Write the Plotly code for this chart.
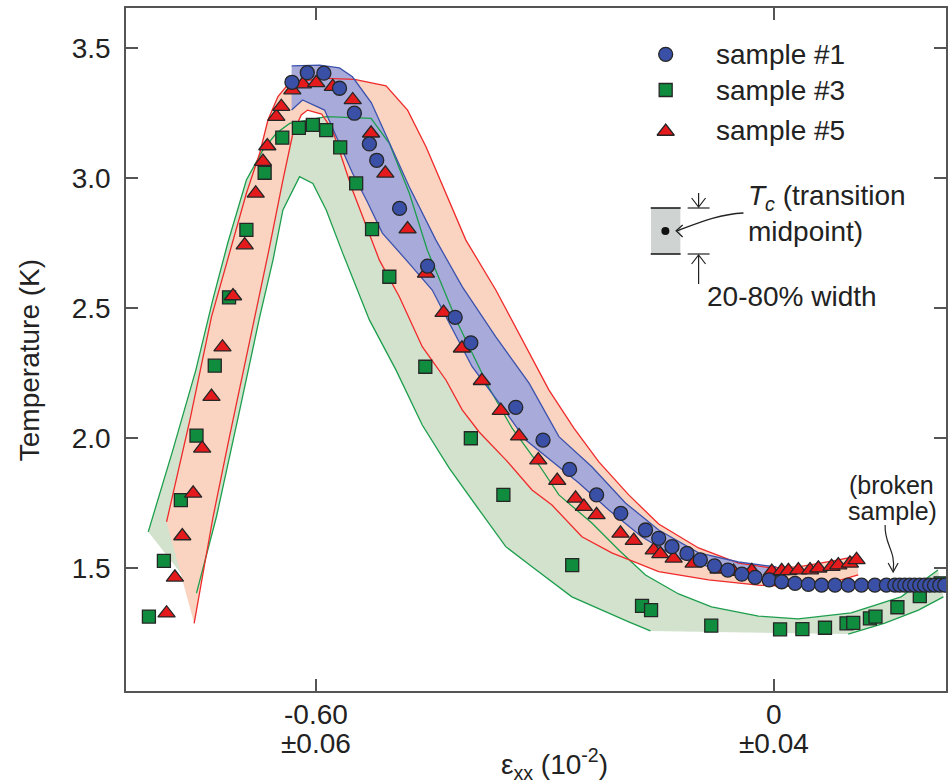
import plotly.graph_objects as go

# ---------------- data (strain in 1e-2, temperature in K) ----------------
s1_x = [-0.6312, -0.6111, -0.5894, -0.5689, -0.5494, -0.5298, -0.5202, -0.4903, -0.4536, -0.4175,
        -0.3970, -0.3382, -0.3025, -0.2677, -0.2324, -0.2007, -0.1684, -0.1511, -0.1337, -0.1141,
        -0.0966, -0.0780, -0.0606, -0.0423, -0.0248, -0.0065, 0.0099, 0.0274, 0.0448, 0.0622,
        0.0797, 0.0970, 0.1144, 0.1319, 0.1470, 0.1580, 0.1645, 0.1710, 0.1776, 0.1840,
        0.1906, 0.1970, 0.2037, 0.2100, 0.2168, 0.2233]
s1_t = [3.367, 3.404, 3.402, 3.344, 3.248, 3.130, 3.067, 2.882, 2.660, 2.463,
        2.365, 2.117, 1.991, 1.878, 1.780, 1.709, 1.645, 1.613, 1.581, 1.555,
        1.530, 1.507, 1.491, 1.475, 1.463, 1.453, 1.446, 1.440, 1.436, 1.433,
        1.433, 1.433, 1.433, 1.433, 1.433, 1.433, 1.433, 1.433, 1.433, 1.433,
        1.433, 1.433, 1.433, 1.433, 1.433, 1.433]

s3_x = [-0.8184, -0.7988, -0.7766, -0.7561, -0.7322, -0.7135, -0.6908, -0.6669, -0.6438, -0.6221,
        -0.6038, -0.5863, -0.5680, -0.5471, -0.5263, -0.5037, -0.4566, -0.3970, -0.3544, -0.2643,
        -0.1729, -0.1611, -0.0823, 0.0078, 0.0370, 0.0666, 0.0948, 0.1036, 0.1254, 0.1327,
        0.1614, 0.1907, 0.2180]
s3_t = [1.312, 1.526, 1.760, 2.008, 2.277, 2.540, 2.799, 3.019, 3.154, 3.192,
        3.203, 3.183, 3.117, 2.978, 2.802, 2.619, 2.273, 1.998, 1.780, 1.510,
        1.353, 1.337, 1.277, 1.263, 1.264, 1.269, 1.286, 1.288, 1.305, 1.312,
        1.348, 1.391, 1.440]

s5_x = [-0.7953, -0.7844, -0.7747, -0.7605, -0.7487, -0.7365, -0.7221, -0.7083, -0.6930, -0.6786,
        -0.6691, -0.6634, -0.6516, -0.6451, -0.6307, -0.6169, -0.5994, -0.5777, -0.5516, -0.5276,
        -0.5089, -0.4798, -0.4557, -0.4327, -0.4087, -0.3826, -0.3578, -0.3339, -0.3087, -0.2839,
        -0.2599, -0.2490, -0.2324, -0.2011, -0.1837, -0.1576, -0.1489, -0.1315, -0.1054, -0.0727,
        -0.0531, -0.0292, -0.0031, 0.0099, 0.0187, 0.0317, 0.0470, 0.0579, 0.0752, 0.0840,
        0.0992, 0.1079]
s5_t = [1.325, 1.463, 1.622, 1.786, 1.959, 2.158, 2.348, 2.545, 2.741, 2.940,
        3.062, 3.122, 3.235, 3.273, 3.337, 3.360, 3.365, 3.350, 3.299, 3.171,
        3.017, 2.802, 2.632, 2.481, 2.344, 2.219, 2.104, 2.006, 1.914, 1.835,
        1.767, 1.735, 1.703, 1.632, 1.604, 1.568, 1.553, 1.536, 1.517, 1.494,
        1.485, 1.488, 1.485, 1.488, 1.488, 1.491, 1.491, 1.498, 1.504, 1.510,
        1.517, 1.530]

# 20-80% transition-width bands
b1_outer_x = [-0.6316, -0.5951, -0.5690, -0.5520, -0.5272, -0.5037, -0.4775, -0.4427, -0.4083, -0.3643,
              -0.3208, -0.2817, -0.2386, -0.1946, -0.1511, -0.0989, -0.0466, 0.0030]
b1_outer_t = [3.430, 3.433, 3.422, 3.388, 3.288, 3.134, 2.964, 2.760, 2.581, 2.388,
              2.210, 2.004, 1.888, 1.749, 1.645, 1.557, 1.522, 1.503]
b1_inner_x = [-0.6316, -0.6173, -0.5885, -0.5690, -0.5520, -0.5337, -0.5128, -0.4815, -0.4475, -0.4253,
              -0.3953, -0.3561, -0.3252, -0.2556, -0.2164, -0.1733, -0.1293, -0.0858, -0.0379, 0.0030]
b1_inner_t = [3.260, 3.299, 3.260, 3.134, 3.018, 2.914, 2.787, 2.683, 2.568, 2.441,
              2.273, 2.119, 1.991, 1.826, 1.722, 1.619, 1.542, 1.504, 1.465, 1.460]

b5_outer_x = [-0.7953, -0.7648, -0.7365, -0.7126, -0.6908, -0.6734, -0.6626, -0.6495, -0.6368, -0.5951,
              -0.5494, -0.5080, -0.4798, -0.4557, -0.4253, -0.4035, -0.3643, -0.3296, -0.2947, -0.2621,
              -0.2294, -0.1903, -0.1511, -0.0989, -0.0466, -0.0035, 0.0317, 0.0774, 0.1101]
b5_outer_t = [1.676, 2.068, 2.465, 2.709, 2.940, 3.094, 3.222, 3.312, 3.357, 3.383,
              3.378, 3.353, 3.260, 3.119, 2.914, 2.760, 2.568, 2.376, 2.183, 2.037,
              1.907, 1.780, 1.668, 1.576, 1.518, 1.499, 1.503, 1.526, 1.545]
b5_inner_x = [-0.7592, -0.7344, -0.7139, -0.6917, -0.6760, -0.6604, -0.6430, -0.6299, -0.6190, -0.6107,
              -0.5924, -0.5781, -0.5520, -0.5167, -0.4906, -0.4606, -0.4296, -0.4083, -0.3861, -0.3509,
              -0.3169, -0.2908, -0.2516, -0.2125, -0.1511, -0.0858, -0.0205, 0.0317, 0.0774, 0.1101]
b5_inner_t = [1.286, 1.696, 1.991, 2.299, 2.530, 2.735, 2.991, 3.171, 3.241, 3.260,
              3.245, 3.183, 2.953, 2.683, 2.542, 2.350, 2.222, 2.107, 2.022, 1.914,
              1.799, 1.741, 1.619, 1.557, 1.485, 1.453, 1.433, 1.427, 1.445, 1.472]

b3_outer_x = [-0.8193, -0.7870, -0.7570, -0.7348, -0.7152, -0.6908, -0.6691, -0.6516, -0.6342, -0.5863,
              -0.5276, -0.5037, -0.4775, -0.4540, -0.4149, -0.3731, -0.3430, -0.3078, -0.2817, -0.2386,
              -0.2033, -0.1684, -0.1250, -0.0819, -0.0205, 0.0317, 0.1009, 0.1662, 0.2145]
b3_outer_t = [1.638, 1.953, 2.260, 2.530, 2.749, 2.991, 3.107, 3.171, 3.209, 3.235,
              3.228, 3.132, 2.940, 2.722, 2.445, 2.191, 2.037, 1.895, 1.780, 1.672,
              1.568, 1.472, 1.399, 1.349, 1.314, 1.303, 1.326, 1.388, 1.491]
b3_inner_x = [-0.7561, -0.7300, -0.6995, -0.6734, -0.6560, -0.6430, -0.6212, -0.6038, -0.5863, -0.5646,
              -0.5298, -0.4949, -0.4606, -0.4253, -0.3861, -0.3513, -0.3169, -0.2647, -0.1903, -0.1619]
b3_inner_t = [1.402, 1.696, 2.107, 2.465, 2.683, 2.876, 3.004, 2.978, 2.876, 2.709,
              2.453, 2.260, 2.049, 1.883, 1.722, 1.581, 1.504, 1.388, 1.292, 1.257]
b3_inner2_x = [0.0970, 0.1449, 0.1889, 0.2216]
b3_inner2_t = [1.245, 1.287, 1.337, 1.388]

x_tickvals = [-0.60, 0.0]
x_ticktext = ["-0.60", "0"]
x_tickerr = ["±0.06", "±0.04"]
y_tickvals = [1.5, 2.0, 2.5, 3.0, 3.5]
y_ticktext = ["1.5", "2.0", "2.5", "3.0", "3.5"]
legend_names = ["sample #1", "sample #3", "sample #5"]

# ---------------- styling ----------------
FONT = "Liberation Sans, Arial, Helvetica, sans-serif"
TXT = "#222222"
C_BLUE, C_GREEN, C_RED = "#3a4fa6", "#0f8c3e", "#e41a1c"
L_BLUE, L_GREEN, L_RED = "#3b52ad", "#1c9e4c", "#ee2a2a"
F_BLUE, F_GREEN, F_RED = "#a8aad9", "#d3e2cd", "#fad4c0"
EDGE = "#262626"

# plot area in pixels: x 126..948, y 8..691
PX0, PX1, PY0, PY1 = 126, 948, 8, 691
XR = [-0.8484, 0.2250]
YR = [1.0258, 3.6527]

def px2paper_x(px):
    return (px - PX0) / (PX1 - PX0)

def px2paper_y(py):
    return (PY1 - py) / (PY1 - PY0)

fig = go.Figure()

def fill(xs, ts, color):
    fig.add_trace(go.Scatter(x=xs, y=ts, mode="lines", fill="toself", fillcolor=color,
                             line=dict(width=0), hoverinfo="skip", showlegend=False))

def line(xs, ts, color):
    fig.add_trace(go.Scatter(x=xs, y=ts, mode="lines", line=dict(color=color, width=1.3),
                             hoverinfo="skip", showlegend=False))

fill(b3_outer_x + b3_inner2_x[::-1] + b3_inner_x[::-1],
     b3_outer_t + b3_inner2_t[::-1] + b3_inner_t[::-1], F_GREEN)
fill(b5_outer_x + b5_inner_x[::-1], b5_outer_t + b5_inner_t[::-1], F_RED)
fill(b1_outer_x + b1_inner_x[::-1], b1_outer_t + b1_inner_t[::-1], F_BLUE)

line(b3_outer_x, b3_outer_t, L_GREEN)
line(b3_inner_x, b3_inner_t, L_GREEN)
line(b3_inner2_x, b3_inner2_t, L_GREEN)
line(b5_outer_x, b5_outer_t, L_RED)
line(b5_inner_x, b5_inner_t, L_RED)
line(b1_outer_x, b1_outer_t, L_BLUE)
line(b1_inner_x, b1_inner_t, L_BLUE)

fig.add_trace(go.Scatter(x=s3_x, y=s3_t, mode="markers", name=legend_names[1], showlegend=False,
                         marker=dict(symbol="square", size=13, color=C_GREEN, line=dict(color=EDGE, width=1.3))))
fig.add_trace(go.Scatter(x=s5_x, y=s5_t, mode="markers", name=legend_names[2], showlegend=False,
                         marker=dict(symbol="triangle-up", size=15, color=C_RED, line=dict(color=EDGE, width=1.3))))
fig.add_trace(go.Scatter(x=s1_x, y=s1_t, mode="markers", name=legend_names[0], showlegend=False,
                         marker=dict(symbol="circle", size=14, color=C_BLUE, line=dict(color=EDGE, width=1.3))))

# ---------------- legend / inset drawn on a pixel overlay axis ----------------
leg_x = 667
leg_y = [54.3, 90.0, 131.5]
leg_sym = ["circle", "square", "triangle-up"]
leg_col = [C_BLUE, C_GREEN, C_RED]
leg_size = [14, 13, 15]
for yy, sym, col, sz in zip(leg_y, leg_sym, leg_col, leg_size):
    fig.add_trace(go.Scatter(x=[leg_x], y=[yy], mode="markers", xaxis="x2", yaxis="y2",
                             showlegend=False, hoverinfo="skip", cliponaxis=False,
                             marker=dict(symbol=sym, size=sz, color=col, line=dict(color=EDGE, width=1.3))))
fig.add_trace(go.Scatter(x=[666.7], y=[231], mode="markers", xaxis="x2", yaxis="y2",
                         showlegend=False, hoverinfo="skip",
                         marker=dict(symbol="circle", size=8, color="#111111")))

shapes = [
    dict(type="rect", xref="x2", yref="y2", x0=652.3, x1=681.7, y0=208, y1=254,
         fillcolor="#cfd4d3", line=dict(width=0), layer="below"),
    dict(type="line", xref="x2", yref="y2", x0=652, x1=682, y0=208, y1=208, line=dict(color="#111", width=1.5)),
    dict(type="line", xref="x2", yref="y2", x0=652, x1=682, y0=254, y1=254, line=dict(color="#111", width=1.5)),
    dict(type="line", xref="x2", yref="y2", x0=689, x1=711, y0=208, y1=208, line=dict(color="#222", width=1.2)),
    dict(type="line", xref="x2", yref="y2", x0=689, x1=711, y0=254, y1=254, line=dict(color="#222", width=1.2)),
    dict(type="path", xref="x2", yref="y2", path="M700,193 L700,207 M693,198 L700,207 L707,198",
         line=dict(color="#222", width=1.2)),
    dict(type="path", xref="x2", yref="y2", path="M700,284 L700,255 M693,264 L700,255 L707,264",
         line=dict(color="#222", width=1.2)),
    dict(type="path", xref="x2", yref="y2", path="M745,213 C722,214 702,222 678,231",
         line=dict(color="#222", width=1.3)),
    dict(type="path", xref="x2", yref="y2", path="M684,225 L677.5,230.8 L684,237",
         line=dict(color="#222", width=1.3)),
    dict(type="path", xref="x2", yref="y2", path="M887,525 C886,545 898,550 895,571",
         line=dict(color="#222", width=1.2)),
    dict(type="path", xref="x2", yref="y2", path="M890,563 L895,572 L900,563",
         line=dict(color="#222", width=1.2)),
]

def ann(text, x, y, size=28, xanchor="left", **kw):
    return dict(text=text, x=x, y=y, xref="x2", yref="y2", showarrow=False, xanchor=xanchor,
                yanchor="middle", font=dict(family=FONT, size=size, color=TXT), **kw)

def pann(text, px, py, size=28, xanchor="center", **kw):
    return dict(text=text, x=px2paper_x(px), y=px2paper_y(py), xref="paper", yref="paper",
                showarrow=False, xanchor=xanchor, yanchor="middle",
                font=dict(family=FONT, size=size, color=TXT), **kw)

annotations = [ann(n, 715, yy) for n, yy in zip(legend_names, [54.3, 90.0, 130.0])]
annotations += [
    ann("<i>T</i><sub><i>c</i></sub> (transition", 748, 197),
    ann("midpoint)", 748, 231),
    ann("20-80% width", 706, 296),
    ann("(broken", 893, 485, size=25, xanchor="center"),
    ann("sample)", 894, 511, size=25, xanchor="center"),
    pann("ε<sub>xx</sub> (10<sup>-2</sup>)", 556, 764),
    pann("Temperature (K)", 29, 360, textangle=-90),
]
for tv, tt, te in zip(x_tickvals, x_ticktext, x_tickerr):
    for txt, py in ((tt, 714), (te, 743)):
        annotations.append(dict(text=txt, x=tv, y=px2paper_y(py), xref="x", yref="paper",
                                showarrow=False, xanchor="center", yanchor="middle",
                                font=dict(family=FONT, size=28, color=TXT)))

axis_common = dict(showgrid=False, zeroline=False, showline=True, linecolor="#555555", linewidth=1.5,
                   ticks="inside", ticklen=12, tickwidth=1.5, tickcolor="#555555", mirror="ticks",
                   tickfont=dict(family=FONT, size=28, color=TXT))

fig.update_layout(
    width=949, height=784,
    margin=dict(l=PX0, r=949 - PX1, t=PY0, b=784 - PY1, pad=0),
    paper_bgcolor="white", plot_bgcolor="white",
    showlegend=False,
    xaxis=dict(range=XR, tickvals=x_tickvals, showticklabels=False, **axis_common),
    yaxis=dict(range=YR, tickvals=y_tickvals, ticktext=y_ticktext, ticklabelstandoff=8, **axis_common),
    xaxis2=dict(overlaying="x", anchor="y2", range=[PX0, PX1], visible=False, fixedrange=True),
    yaxis2=dict(overlaying="y", anchor="x2", range=[PY1, PY0], visible=False, fixedrange=True),
    shapes=shapes,
    annotations=annotations,
)

fig.write_html("out.html")
